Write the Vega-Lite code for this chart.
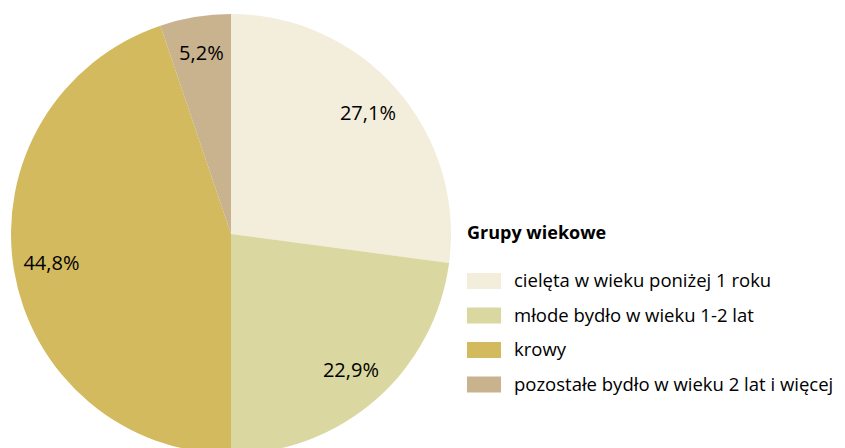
{
  "$schema": "https://vega.github.io/schema/vega-lite/v6.json",
  "autosize": {"type": "none"},
  "width": 462,
  "height": 468,
  "padding": {"left": 0, "top": 0, "right": 383, "bottom": 0},
  "background": "white",
  "config": {"view": {"stroke": null}, "font": "Open Sans"},
  "data": {
    "values": [
      {"grupa": "cielęta w wieku poniżej 1 roku", "udzial": 27.1, "etykieta": "27,1%", "kolejnosc": 1},
      {"grupa": "młode bydło w wieku 1-2 lat", "udzial": 22.9, "etykieta": "22,9%", "kolejnosc": 2},
      {"grupa": "krowy", "udzial": 44.8, "etykieta": "44,8%", "kolejnosc": 3},
      {"grupa": "pozostałe bydło w wieku 2 lat i więcej", "udzial": 5.2, "etykieta": "5,2%", "kolejnosc": 4}
    ]
  },
  "encoding": {
    "theta": {"field": "udzial", "type": "quantitative", "stack": true},
    "order": {"field": "kolejnosc", "type": "quantitative"}
  },
  "layer": [
    {
      "mark": {"type": "arc", "outerRadius": 220},
      "encoding": {
        "color": {
          "field": "grupa",
          "type": "nominal",
          "sort": ["cielęta w wieku poniżej 1 roku", "młode bydło w wieku 1-2 lat", "krowy", "pozostałe bydło w wieku 2 lat i więcej"],
          "scale": {
            "domain": ["cielęta w wieku poniżej 1 roku", "młode bydło w wieku 1-2 lat", "krowy", "pozostałe bydło w wieku 2 lat i więcej"],
            "range": ["#F3EEDB", "#DAD8A0", "#D3BA5E", "#C9B28E"]
          },
          "legend": {
            "title": "Grupy wiekowe",
            "orient": "none",
            "legendX": 467,
            "legendY": 225,
            "titleFont": "Open Sans",
            "titleFontSize": 18,
            "titleFontWeight": "bold",
            "titleColor": "#000000",
            "titlePadding": 21,
            "labelFont": "Open Sans",
            "labelFontSize": 18.5,
            "labelColor": "#000000",
            "labelOffset": 13,
            "labelLimit": 400,
            "symbolType": "M-1,-0.47h2v0.94h-2z",
            "symbolSize": 1156,
            "symbolStrokeWidth": 0,
            "symbolOpacity": 1,
            "rowPadding": 7.5
          }
        }
      }
    },
    {
      "mark": {"type": "text", "radius": 182, "fontSize": 20, "font": "Open Sans", "color": "#000000"},
      "encoding": {
        "text": {"field": "etykieta", "type": "nominal"}
      }
    }
  ]
}
